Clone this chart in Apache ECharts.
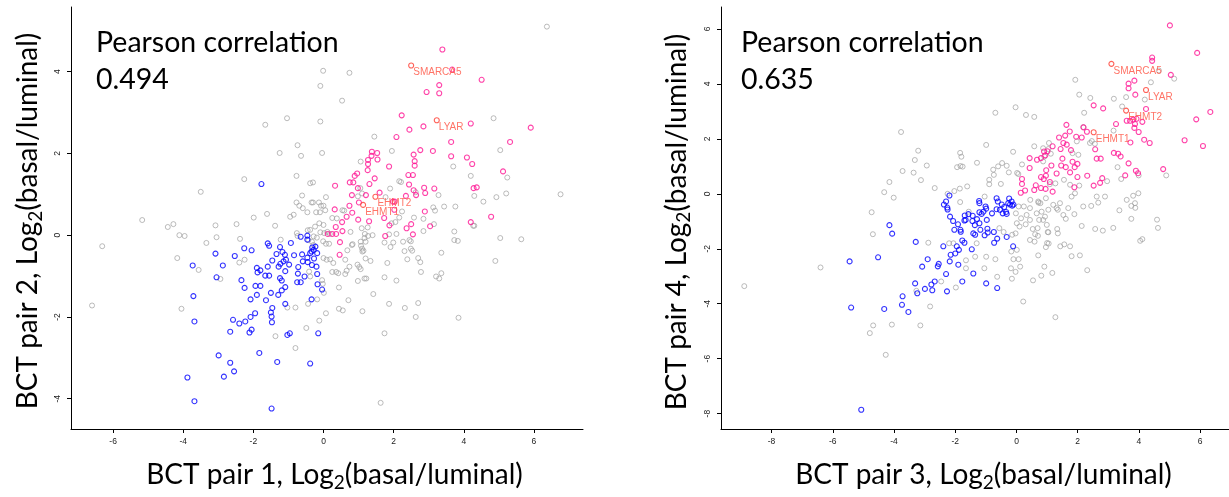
<!DOCTYPE html>
<html><head><meta charset="utf-8">
<script src="https://cdn.jsdelivr.net/npm/echarts@6/dist/echarts.min.js"></script>
<style>html,body{margin:0;padding:0;background:#fff}#c{width:1229px;height:497px}</style>
</head><body><div id="c"></div>
<script>
const xTicks1 = [-6, -4, -2, 0, 2, 4, 6];
const yTicks1 = [-4, -2, 0, 2, 4];
const xTicks2 = [-8, -6, -4, -2, 0, 2, 4, 6];
const yTicks2 = [-8, -6, -4, -2, 0, 2, 4, 6];
const corr1 = '0.494';
const corr2 = '0.635';
const xName1 = ['BCT pair 1, Log', '2', '(basal/luminal)'];
const yName1 = ['BCT pair 2, Log', '2', '(basal/luminal)'];
const xName2 = ['BCT pair 3, Log', '2', '(basal/luminal)'];
const yName2 = ['BCT pair 4, Log', '2', '(basal/luminal)'];

const p1Gray = [[-0.01,4.02],[0.74,3.97],[-0.09,3.65],[0.53,3.29],[-1.04,2.86],[-0.09,2.78],[-1.66,2.70],[-0.74,2.20],[-1.25,2.01],[-0.64,1.94],[-0.04,2.01],[-0.77,1.45],[-2.26,1.37],[-3.50,1.06],[-0.38,1.27],[-0.30,1.29],[0.07,0.93],[-0.61,0.97],[-0.77,0.80],[-0.69,0.72],[-0.34,0.80],[-0.30,0.80],[-0.13,0.80],[-0.07,0.72],[0.00,0.72],[-0.59,0.66],[-0.46,0.56],[-0.21,0.56],[-0.10,0.56],[0.05,0.61],[-1.61,0.52],[-0.95,0.45],[-0.85,0.50],[-1.99,0.43],[0.54,0.61],[0.59,0.60],
[4.85,2.86],[1.45,2.41],[1.95,2.06],[5.04,2.08],[3.70,1.68],[4.20,1.45],[5.24,1.41],[2.16,1.32],[2.21,1.30],[1.90,1.14],[2.63,1.05],[4.30,0.96],[5.21,1.02],[4.93,0.93],[3.28,0.98],[4.56,0.82],[3.44,0.70],[3.76,0.70],[3.13,0.68],[3.18,0.60],[2.24,0.58],[1.77,0.93],[1.05,1.15],[1.10,1.02],[0.98,0.95],[2.58,0.43],[2.85,0.40],[1.06,1.80],
[6.37,5.10],[6.76,1.00],[-5.17,0.37],[-6.31,-0.27],[-6.60,-1.72],
[-4.44,0.20],[-4.28,0.27],[-4.11,0.00],[-3.96,-0.02],[-4.17,-0.56],[-3.56,-0.85],[-3.34,-0.19],[-3.08,0.24],[-3.05,-0.05],[-2.48,0.27],[-2.38,-0.09],[-2.40,-0.67],[-2.25,-0.60],[-1.38,0.23],[-2.94,-1.07],[-4.05,-1.80],[-1.37,-2.47],[-0.80,-2.76],[-0.49,-2.27],[-0.12,-2.09],[-1.03,-1.77],[-0.80,-1.77],[-0.44,-1.68],[-0.18,-1.57],[0.07,-1.91],[0.44,-1.80],[0.55,-1.84],[0.71,-1.59],[0.44,-1.28],
[-0.76,0.05],[-0.74,-0.02],[-0.45,0.12],[-0.24,0.21],[-0.12,0.29],[0.00,0.25],[0.25,0.42],[0.38,0.41],[-1.22,-0.11],[-0.09,0.07],[0.02,0.05],[0.11,0.08],[0.18,0.03],[-0.19,-0.06],[-0.01,-0.15],[0.07,-0.21],[0.16,-0.21],[0.00,-0.56],[0.09,-0.60],[0.19,-0.59],[0.28,-0.68],[0.25,-0.90],[0.36,-0.90],[0.42,-0.93],[0.62,-0.95],[0.66,-0.87],[0.62,-0.60],[0.74,-0.77],[-0.04,-1.10],[-0.02,-1.19],[0.01,-1.41],[-0.38,0.13],[-0.28,-0.03],[-0.33,-0.16],[-0.43,-0.12],[-0.29,-0.24],[-0.41,-0.89],[-0.38,-1.01],
[4.27,0.23],[4.30,0.23],[5.04,-0.07],[5.64,-0.10],[4.90,-0.63],[3.73,0.09],[3.73,-0.12],[3.83,-0.14],[3.36,-0.43],[3.36,-0.93],[3.21,-1.01],[3.30,-1.06],[2.78,-0.90],[2.76,-0.66],[2.70,-0.56],[3.15,0.27],[2.85,0.10],[2.16,0.43],[2.05,0.32],[1.94,0.29],[2.08,0.03],[2.27,-0.16],[2.45,-0.12],[2.49,-0.15],[1.99,-0.18],[1.91,-0.29],[2.31,-0.39],[2.49,-0.33],[2.53,-0.38],[2.39,-0.59],[1.74,-0.18],[1.87,0.02],[1.74,-1.03],[2.08,-1.11],[1.82,-0.68],[1.42,-1.44],[1.87,-1.68],[2.32,-1.78],[2.70,-1.66],[2.63,-2.00],[3.85,-2.02],[1.74,-2.40],[1.63,-4.10],[1.11,-1.86],[0.98,-1.12],[1.17,-1.06],[1.22,-1.06],[0.97,-0.72],[1.02,-0.78],[1.06,-0.83],[1.34,-0.63],[1.20,-0.57],[0.68,-0.37],[0.83,-0.22],[0.81,-0.24],[1.07,-0.26],[1.10,-0.33],[1.11,-0.40],[1.14,-0.38],[1.06,-0.16],[1.20,-0.16],[1.17,-0.07],[1.18,0.03],[1.27,-0.02],[1.40,0.00],[1.09,0.17],[1.26,0.19],[0.77,0.08]];

const p1Blue = [[-1.77,1.25],[-3.73,-0.74],[-3.08,-0.45],[-3.05,-1.03],[-2.87,-0.74],[-2.53,-0.51],[-2.26,-0.32],[-2.05,-0.37],[-3.71,-1.49],[-3.68,-2.11],[-3.88,-3.48],[-3.68,-4.06],[-2.99,-2.94],[-2.66,-3.12],[-2.55,-3.33],[-2.84,-3.46],[-1.83,-2.88],[-1.32,-3.10],[-1.48,-4.24],[-0.38,-3.14],[-2.66,-2.36],[-2.58,-2.07],[-2.40,-2.16],[-2.23,-2.11],[-2.08,-2.00],[-1.95,-1.91],[-2.11,-2.38],[-2.05,-2.31],[-1.50,-1.89],[-1.46,-1.78],[-1.48,-1.99],[-1.47,-2.13],[-1.03,-2.44],[-0.96,-2.40],[-0.15,-2.40],[-1.09,-1.68],[-0.34,-1.57],[-2.34,-1.10],[-2.25,-1.29],[-2.08,-1.57],[-1.94,-1.24],[-1.80,-1.24],[-1.90,-1.46],[-1.64,-1.59],[-1.50,-1.41],[-1.29,-1.46],[-1.19,-1.35],[-1.09,-1.27],[-1.90,-0.80],[-1.80,-0.86],[-1.88,-0.91],[-1.66,-0.99],[-1.55,-0.99],[-1.59,-0.77],[-1.46,-0.62],[-1.59,-0.20],[-1.55,-0.26],[-1.24,-0.29],[-1.34,-0.46],[-1.17,-0.41],[-1.10,-0.48],[-1.14,-0.64],[-1.07,-0.60],[-0.93,-0.19],[-1.28,-0.77],[-1.23,-0.70],[-1.09,-0.88],[-1.24,-1.05],[-1.19,-1.11],[-0.98,-0.72],[-0.84,-0.49],[-0.72,-0.78],[-0.73,-0.94],[-0.75,-1.15],[-0.65,-1.15],[-0.61,-0.47],[-0.65,-0.04],[-0.46,-0.01],[-0.46,-0.11],[-0.54,-1.01],[-0.59,-0.64],[-0.46,-0.55],[-0.45,-0.66],[-0.33,-0.73],[-0.32,-0.30],[-0.28,-0.36],[-0.23,-0.28],[-0.38,-0.44],[-0.34,-0.40],[-0.18,-0.44],[-0.27,-0.57],[-0.20,-0.77],[-0.18,-0.95],[-0.17,-1.20],[-0.04,-1.33]];

const p1Pink = [[0.33,1.21],[0.32,0.63],[0.66,0.45],
[3.39,4.54],[3.67,4.05],[4.51,3.80],[3.30,3.67],[2.94,3.50],[3.30,3.47],[2.23,2.93],[4.20,2.73],[5.91,2.63],[2.45,2.58],[2.85,2.66],[2.08,2.40],[5.32,2.28],[3.64,2.28],[2.76,2.08],[3.12,2.06],[2.57,1.97],[3.64,1.93],[4.09,1.90],[4.24,1.74],[2.60,1.81],[2.60,1.70],[1.87,1.68],[5.12,1.56],[2.42,1.47],[2.55,1.47],[2.44,1.24],[2.87,1.16],[2.90,1.03],[3.16,1.14],[4.28,1.15],[4.37,1.17],[2.57,1.10],[2.64,0.98],[2.35,0.96],[1.60,1.04],[1.98,0.82],[2.03,0.82],[2.89,0.58],[4.78,0.45],[1.73,0.42],[1.38,2.04],[1.53,2.01],[1.37,1.94],[1.27,1.84],[1.27,1.74],[1.54,1.85],[1.26,1.59],[0.96,1.51],[0.89,1.45],[0.75,1.29],[0.85,1.29],[1.31,1.25],[1.46,1.39],[0.98,1.15],[0.81,0.98],[0.74,0.72],[1.21,0.98],[1.01,0.80],
[4.20,0.32],[3.04,0.22],[2.50,0.27],[2.37,0.17],[2.55,0.02],[1.88,0.24],[1.76,-0.02],[1.30,0.34],[0.99,0.38],[0.53,0.32],[0.54,0.10],[0.47,-0.17],[0.82,0.55],[2.02,0.62],
[0.12,0.03],[0.25,0.03],[0.36,0.03],[0.46,-0.48],[0.35,0.20]];

const p1Genes = [['SMARCA5',2.50,4.15],['LYAR',3.23,2.81],['EHMT2',1.48,0.94],['EHMT1',1.13,0.74]];

const p2Gray = [[-0.03,3.15],[-0.69,2.95],[0.31,2.87],[0.58,2.80],[-3.77,2.25],[-0.99,1.78],[-0.11,1.53],[-3.21,1.57],[-3.32,1.23],[-2.93,1.03],[-3.72,0.83],[-3.36,0.77],[-3.12,0.50],[-4.15,0.43],[-4.32,0.06],[-4.01,-0.14],[-2.67,0.21],[-1.84,1.49],[-1.80,1.35],[-1.83,1.01],[-1.94,0.97],[-1.76,0.99],[-1.29,1.13],[-1.85,0.19],[-1.61,0.27],[-2.03,0.10],[-2.25,0.00],[-1.84,-0.30],[-0.89,0.51],[-0.89,0.35],[-0.76,0.88],[-0.60,1.00],[-0.47,1.12],[-0.32,1.02],[-0.74,0.69],[0.18,1.07],[0.02,0.76],[0.06,0.72],[-0.25,0.78],[-0.51,0.36],[-1.04,-0.10],[0.45,-0.22],[0.72,-0.32],[0.78,-0.34],[0.58,1.73],[0.87,1.66],[1.06,1.85],[0.91,1.36],[0.87,1.18],
[1.92,4.15],[2.05,3.61],[2.41,3.49],[3.18,3.46],[3.45,3.18],[2.21,2.95],[4.39,4.06],[4.65,4.49],[5.15,4.19],[4.19,3.43],[3.58,3.52],[3.17,2.30],[2.18,2.43],[1.97,1.91],[2.40,1.85],[2.46,1.92],[1.12,1.46],[1.04,1.63],[2.02,1.42],[1.83,1.48],[2.56,1.82],[3.30,0.97],[4.89,0.67],[2.96,0.46],[3.42,0.54],[3.99,0.67],[2.05,0.30],[1.75,0.33],[1.55,0.51],[1.27,0.38],[1.09,0.35],[0.71,-0.28],[0.96,-0.16],[1.20,-0.40],[1.42,-0.34],[1.80,-0.10],[1.91,0.02],[2.18,-0.46],[2.62,-0.10],[2.89,-0.10],[3.60,-0.22],[3.81,-0.07],[3.98,0.02],[3.87,-0.34],
[-4.73,-0.67],[-4.69,-1.47],[-2.88,-1.78],[-4.07,-4.76],[-4.68,-4.79],[-4.79,-5.07],[-3.14,-4.79],[-4.27,-5.86],[-2.82,-4.10],[-3.27,-3.53],[-2.46,-3.19],[-1.98,-3.41],[-2.20,-1.80],[-2.06,-1.80],[-1.65,-2.42],[-1.65,-2.71],[-1.35,-2.29],[-1.05,-2.71],[-0.99,-2.29],[-0.69,-2.38],[-0.63,-3.02],[0.22,-3.92],[-0.18,-2.71],[-0.03,-2.84],[0.12,-2.65],[-0.15,-3.09],[0.07,-2.38],[-0.10,-2.38],[0.01,-2.04],[0.54,-3.15],[0.81,-2.98],[0.71,-2.24],[0.91,-2.65],[0.96,-1.94],[0.44,-1.68],[0.59,-1.74],[0.61,-1.47],[0.69,-1.25],[0.30,-1.11],[0.53,-1.28],[0.44,-0.95],[0.74,-0.95],[1.02,-1.39],[0.99,-1.13],[0.93,-0.83],[1.04,-0.58],[0.82,-0.65],[0.66,-0.71],[0.33,-0.77],[0.24,-0.46],[0.44,-0.52],[0.07,-0.46],[-0.02,-0.71],[0.15,-0.89],[0.01,-1.07],[0.10,-1.19],[-0.03,-1.44],[-0.42,-1.39],[-0.14,-1.49],[-0.56,-1.25],[-0.17,-2.10],[-1.30,-1.80],[-1.56,-0.65],
[1.17,-2.88],[1.27,-4.49],[2.31,-2.78],[1.00,-1.79],[1.05,-1.81],[1.43,-1.91],[1.56,-1.84],[1.75,-1.91],[1.80,-2.27],[2.07,-2.24],[2.13,-1.17],[2.57,-1.28],[2.82,-1.34],[3.16,-1.24],[3.75,-0.91],[4.04,-1.71],[4.11,-1.65],[4.59,-0.94],[4.62,-1.24],[3.36,-0.60],[3.75,-0.44],[3.88,-0.51],[2.44,-0.44],[2.67,-0.32],[1.89,-0.74],[1.69,-0.52],[1.53,-0.77],[1.61,-0.91],[1.35,-0.58],[1.33,-1.28],[1.35,-1.44],[1.04,-1.40],[0.70,-1.53],[0.87,-0.95],[1.31,-0.52],
[-8.89,-3.36],[-6.40,-2.68]];

const p2Blue = [[-2.19,-0.06],[-2.30,-0.28],[-2.37,-0.39],[-2.26,-0.50],[-1.22,-0.26],[-1.21,-0.34],[-0.65,-0.16],[-0.61,-0.28],[-1.01,-0.46],[-0.24,-0.17],[-0.16,-0.28],[-0.27,-0.34],[-0.14,-0.43],[-0.48,-0.39],[-0.40,-0.48],
[-4.15,-1.14],[-4.06,-1.45],[-4.52,-2.31],[-3.29,-1.75],[-4.32,-4.19],[-3.74,-4.04],[-3.72,-3.73],[-3.53,-4.30],[-3.31,-3.26],[-3.24,-3.62],[-2.99,-3.46],[-2.75,-3.51],[-2.78,-3.30],[-2.67,-3.19],[-3.08,-2.65],[-2.90,-2.38],[-2.57,-2.64],[-2.54,-2.55],[-2.30,-2.92],[-2.27,-3.55],[-1.77,-3.19],[-1.41,-2.90],[-0.99,-3.26],[-0.63,-3.43],[-2.39,-1.91],[-2.18,-2.46],[-2.15,-2.22],[-1.90,-2.58],[-1.95,-1.91],[-1.88,-2.04],[-2.00,-2.17],[-1.46,-2.02],[-1.77,-1.70],[-1.70,-1.78],[-2.03,-1.31],[-1.83,-1.31],[-1.82,-1.38],[-1.91,-1.11],[-2.07,-0.99],[-2.17,-0.83],[-2.25,-0.57],[-1.69,-0.79],[-1.57,-0.74],[-1.70,-0.97],[-1.66,-0.95],[-1.43,-0.80],[-1.44,-0.99],[-1.36,-1.14],[-1.35,-1.49],[-1.41,-1.44],[-1.29,-0.92],[-1.21,-1.07],[-1.14,-0.73],[-1.21,-0.67],[-1.18,-1.31],[-0.95,-1.27],[-0.94,-1.41],[-1.04,-1.51],[-0.97,-0.95],[-0.99,-0.54],[-1.08,-0.65],[-0.80,-0.71],[-0.65,-0.56],[-0.74,-1.39],[-0.63,-1.63],[-0.73,-1.78],[-0.54,-0.58],[-0.45,-0.71],[-0.34,-0.66],[-0.32,-0.73],[-0.21,-0.39],[-0.10,-0.39],[-0.32,-1.57],[-0.11,-1.91],
[-5.45,-2.46],[-5.40,-4.14],[-5.07,-7.86]];

const p2Pink = [[0.43,1.30],[0.43,0.94],[0.18,0.54],[0.18,0.36],[0.14,0.04],[0.28,0.12],[0.67,1.24],[0.80,1.30],[0.90,1.54],[1.01,1.55],[0.96,0.66],[0.80,0.61],[0.89,0.54],[0.63,0.31],[0.80,0.21],[0.95,0.18],
[5.01,6.13],[5.90,5.13],[4.43,4.96],[4.43,4.84],[5.04,4.33],[3.85,4.12],[3.66,4.01],[3.66,3.84],[3.88,3.61],[4.23,3.09],[2.52,3.22],[2.83,3.11],[6.33,2.98],[5.87,2.71],[3.60,2.66],[3.71,2.66],[3.81,2.70],[3.92,2.73],[4.11,2.62],[3.87,2.54],[3.85,2.40],[3.99,2.25],[3.25,2.54],[1.63,2.51],[2.19,2.42],[1.74,2.27],[1.39,2.05],[1.59,2.12],[1.95,2.08],[2.13,2.05],[2.30,2.26],[4.17,1.97],[4.35,1.85],[3.72,1.87],[5.49,1.95],[6.09,1.74],[2.57,1.62],[1.53,1.85],[1.64,1.79],[1.44,1.63],[1.78,1.59],[1.18,1.73],[0.94,1.40],[2.62,1.28],[2.75,1.28],[3.18,1.49],[3.32,1.46],[3.40,1.36],[3.66,1.11],[1.50,1.28],[1.83,1.17],[1.99,1.09],[1.14,1.03],[1.46,1.03],[1.61,0.97],[1.90,0.97],[0.97,0.86],[1.31,0.74],[1.75,0.78],[1.99,0.61],[2.31,0.66],[2.80,0.57],[2.73,0.40],[2.52,0.30],[1.89,0.24],[3.55,0.67],[3.90,0.84],[3.97,0.75],[4.79,0.90],[0.58,0.14],[1.18,0.08],[1.09,0.43]];

const p2Genes = [['SMARCA5',3.10,4.73],['LYAR',4.23,3.78],['EHMT2',3.58,3.03],['EHMT1',2.52,2.24]];

const chart = echarts.init(document.getElementById('c'), null, {renderer: 'canvas'});

function mkAxis(gridIndex, min, max, ticks, isY) {
  return {
    type: 'value', gridIndex: gridIndex, min: min, max: max,
    axisLine: {show: true, onZero: false, lineStyle: {color: '#000', width: 1}},
    axisTick: {show: true, inside: false, length: 4, customValues: ticks, lineStyle: {color: '#000', width: 1}},
    axisLabel: {show: true, customValues: ticks, rotate: isY ? 90 : 0, margin: isY ? 9 : 8,
      fontSize: 8.5, color: '#222', fontFamily: 'Liberation Sans'},
    splitLine: {show: false}
  };
}

function pts(data, idx, color, bw, z) {
  return {
    type: 'scatter', xAxisIndex: idx, yAxisIndex: idx, data: data,
    symbol: 'circle', symbolSize: 5, silent: true, z: z,
    itemStyle: {color: 'rgba(0,0,0,0)', borderColor: color, borderWidth: bw}
  };
}

function genes(list, idx) {
  return {
    type: 'scatter', xAxisIndex: idx, yAxisIndex: idx, silent: true, z: 5,
    data: list.map(function (g) { return {name: g[0], value: [g[1], g[2]]}; }),
    symbol: 'circle', symbolSize: 5,
    itemStyle: {color: 'rgba(0,0,0,0)', borderColor: '#ff3b2f', borderWidth: 1.1},
    label: {show: true, position: 'right', distance: 0, offset: [-1, 7], formatter: '{b}',
      fontSize: 10, fontFamily: 'Liberation Sans', color: '#ff5040'}
  };
}

const richT = {
  m: {fontFamily: 'Lato', fontSize: 28, fill: '#000', color: '#000'},
  s: {fontFamily: 'Lato', fontSize: 19, fill: '#000', color: '#000', padding: [15, 0, 0, 0]}
};
function title(parts, x, y, rot) {
  return {
    type: 'text', x: x, y: y, rotation: rot, silent: true,
    style: {text: '{m|' + parts[0] + '}{s|' + parts[1] + '}{m|' + parts[2] + '}', rich: richT,
      align: 'center', textAlign: 'center', verticalAlign: 'middle', textVerticalAlign: 'middle'}
  };
}
function plain(text, x, y) {
  return {
    type: 'text', x: x, y: y, silent: true,
    style: {text: text, fontFamily: 'Lato', fontSize: 28.5, fill: '#000',
      align: 'left', textAlign: 'left', verticalAlign: 'middle', textVerticalAlign: 'middle'}
  };
}

chart.setOption({
  animation: false,
  backgroundColor: '#fff',
  grid: [
    {left: 71, top: 7, width: 512, height: 422},
    {left: 721, top: 7, width: 508, height: 422}
  ],
  xAxis: [mkAxis(0, -7.2, 7.4, xTicks1, false), mkAxis(1, -9.65, 6.94, xTicks2, false)],
  yAxis: [mkAxis(0, -4.74, 5.58, yTicks1, true), mkAxis(1, -8.56, 6.80, yTicks2, true)],
  series: [
    pts(p1Gray, 0, '#a0a0a0', 0.9, 1),
    pts(p1Blue, 0, '#0000ff', 1.1, 2),
    pts(p1Pink, 0, '#ff1493', 1.1, 3),
    genes(p1Genes, 0),
    pts(p2Gray, 1, '#a0a0a0', 0.9, 1),
    pts(p2Blue, 1, '#0000ff', 1.1, 2),
    pts(p2Pink, 1, '#ff1493', 1.1, 3),
    genes(p2Genes, 1)
  ],
  graphic: [
    plain('Pearson correlation', 96, 42.5),
    plain(corr1, 96, 79.5),
    plain('Pearson correlation', 741, 42.5),
    plain(corr2, 741, 79.5),
    title(xName1, 334.5, 475, 0),
    title(yName1, 28, 221, Math.PI / 2),
    title(xName2, 983.5, 475, 0),
    title(yName2, 676.5, 222, Math.PI / 2)
  ]
});
</script>
</body></html>
